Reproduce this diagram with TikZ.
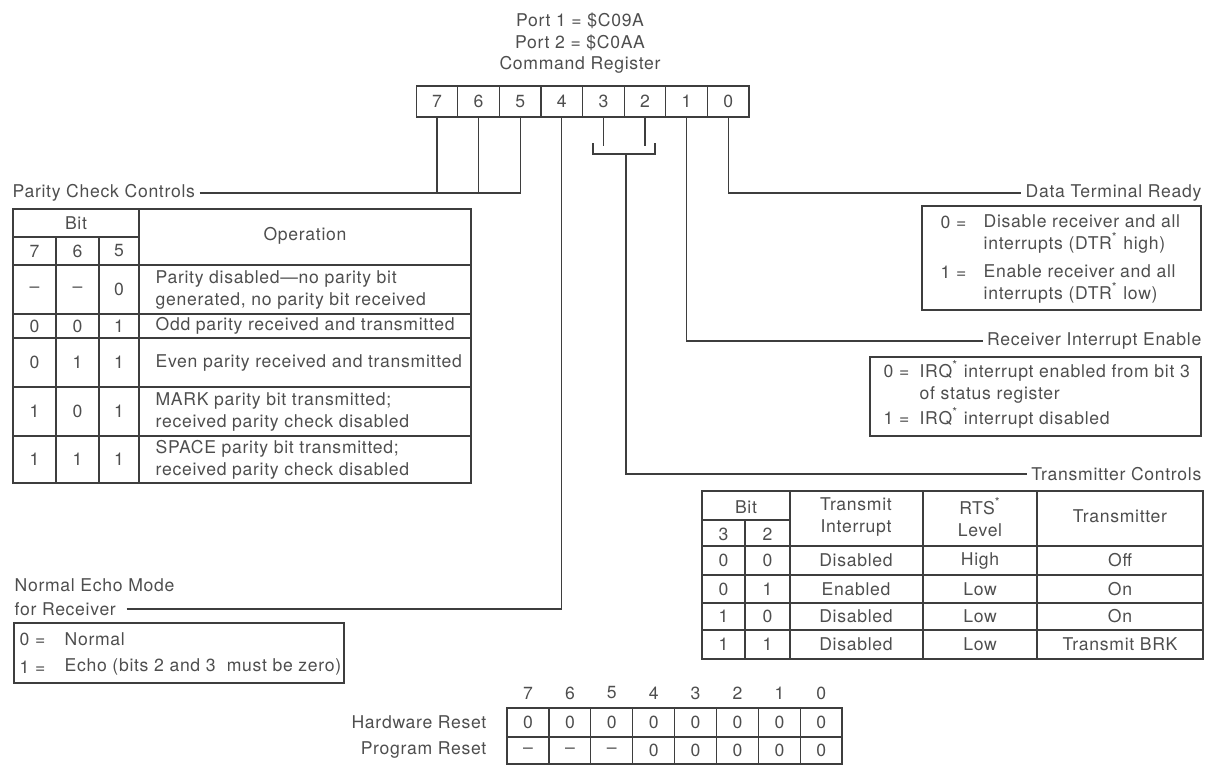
\documentclass[tikz,border=0pt]{standalone}
\usepackage{fontspec}
\setmainfont{TeX Gyre Heros}[LetterSpace=4]
\usepackage{tikz}
\usetikzlibrary{calc}
\definecolor{ink}{RGB}{78,78,78}
\definecolor{rule}{RGB}{62,62,62}

\begin{document}
\begin{tikzpicture}[
  x=0.5pt, y=-0.5pt,
  color=rule, line width=0.65pt,
  txt/.style={font=\fontsize{8.8}{11}\selectfont, inner sep=2pt, text=ink},
  lbl/.style={txt},
  cell/.style={txt, inner sep=0pt},
  multi/.style={txt, align=left},
  regcell/.style={txt, draw=rule, minimum width=20.8pt, minimum height=15.5pt, inner sep=0pt}
]
\useasboundingbox (0,0) rectangle (1229,766);

% command register
\node[lbl] (port1) at (580,21) {Port 1 = \$C09A};
\node[lbl] (port2) at (580,43) {Port 2 = \$C0AA};
\node[lbl] (cmdreg) at (580,65) {Command Register};
\foreach \b in {7,...,0}
  \node[regcell] (r\b) at ({437+(7-\b)*41.6},101.5) {\b};

% labels on the leads
\node[lbl, anchor=west] (pcc) at (8,193) {Parity Check Controls};
\node[lbl, anchor=west] (echo1) at (10,585) {Normal Echo Mode};
\node[lbl, anchor=west] (echo2) at (10,609) {for Receiver};
\node[lbl, anchor=east] (dtr) at (1206,193) {Data Terminal Ready};
\node[lbl, anchor=east] (rie) at (1206,341) {Receiver Interrupt Enable};
\node[lbl, anchor=east] (txc) at (1206,474) {Transmitter Controls};

\coordinate (tb) at (0,146);
\coordinate (brk) at (626,154);
\coordinate (brl) at (593,143);
\coordinate (brr) at (655,143);

\draw (pcc.east) -| (r5.south);
\draw (r7.south) -- (r7.south |- pcc.east);
\draw (r6.south) -- (r6.south |- pcc.east);
\draw ([xshift=3pt]echo2.east) -| (r4.south);
\draw (r3.south) -- (r3.south |- tb);
\draw (r2.south) -- (r2.south |- tb);
\draw (brl) |- (brk) -| (brr);
\draw (brk) |- (txc.west);
\draw (r1.south) |- (rie.west);
\draw (r0.south) |- (dtr.west);

% parity table
\draw (13,209) rectangle (471,483);
\draw (13,237) -- (139,237);
\draw (13,265) -- (471,265);
\foreach \y in {314,338,387,436} \draw (13,\y) -- (471,\y);
\draw (56,237) -- (56,483) (99,237) -- (99,483) (139,209) -- (139,483);
\node[cell] (pbit) at (76,223) {Bit};
\node[cell] (pop) at (305,236) {Operation};
\foreach \b/\x in {7/34.5,6/77.5,5/119} \node[cell] (ph\b) at (\x,251) {\b};
\foreach \i/\y/\va/\vb/\vc/\vt in {
  1/289.5/–/–/0/{Parity disabled—no parity bit\\generated, no parity bit received},
  2/326/0/0/1/{Odd parity received and transmitted},
  3/362.5/0/1/1/{Even parity received and transmitted},
  4/411.5/1/0/1/{MARK parity bit transmitted;\\received parity check disabled},
  5/459.5/1/1/1/{SPACE parity bit transmitted;\\received parity check disabled}} {
  \node[cell] (pa\i) at (34.5,\y) {\va};
  \node[cell] (pb\i) at (77.5,\y) {\vb};
  \node[cell] (pc\i) at (119,\y) {\vc};
  \node[multi, anchor=west] (pt\i) at (151,\y) {\vt};
}

% data terminal ready
\draw (922,206) rectangle (1201,310);
\node[txt, anchor=east] (dtr0) at (971,222) {0 =};
\node[multi, anchor=west] (dtr0t) at (979,233.5) {Disable receiver and all\\interrupts (DTR\textsuperscript{*} high)};
\node[txt, anchor=east] (dtr1) at (971,272) {1 =};
\node[multi, anchor=west] (dtr1t) at (979,283.5) {Enable receiver and all\\interrupts (DTR\textsuperscript{*} low)};

% receiver interrupt enable
\draw (870,357) rectangle (1201,436);
\node[txt, anchor=east] (rie0) at (914,371) {0 =};
\node[multi, anchor=west] (rie0t) at (915,382) {IRQ\textsuperscript{*} interrupt enabled from bit 3\\of status register};
\node[txt, anchor=east] (rie1) at (914,418) {1 =};
\node[txt, anchor=west] (rie1t) at (915,418) {IRQ\textsuperscript{*} interrupt disabled};

% transmitter table
\draw (702,491) rectangle (1203,659);
\draw (702,520) -- (790,520);
\draw (702,546) -- (1203,546);
\foreach \y in {575,603,630} \draw (702,\y) -- (1203,\y);
\draw (745,520) -- (745,659);
\foreach \x in {790,923,1037} \draw (\x,491) -- (\x,659);
\node[cell] (tbit) at (746,507) {Bit};
\node[cell] (th3) at (723.5,534) {3};
\node[cell] (th2) at (767.5,534) {2};
\node[multi, align=center] (tint) at (856,517) {Transmit\\Interrupt};
\node[multi, align=center] (trts) at (980,517) {RTS\textsuperscript{*}\\Level};
\node[cell] (ttx) at (1120,516) {Transmitter};
\foreach \i/\y/\va/\vb/\vi/\vr/\vx in {
  1/560.5/0/0/Disabled/High/Off,
  2/589/0/1/Enabled/Low/On,
  3/616.5/1/0/Disabled/Low/On,
  4/644.5/1/1/Disabled/Low/Transmit BRK} {
  \node[cell] (ta\i) at (723.5,\y) {\va};
  \node[cell] (tb\i) at (767.5,\y) {\vb};
  \node[cell] (ti\i) at (856,\y) {\vi};
  \node[cell] (tr\i) at (980,\y) {\vr};
  \node[cell] (tx\i) at (1120,\y) {\vx};
}

% echo mode
\draw (14,623) rectangle (344,683);
\node[txt, anchor=west] (echo0) at (15,639) {0 =};
\node[txt, anchor=west] (echo0t) at (60,639) {Normal};
\node[txt, anchor=west] (echo1v) at (15,667) {1 =};
\node[txt, anchor=west] (echo1t) at (60,667) {Echo (bits 2 and 3\ \ must be zero)};

% reset states
\node[txt, anchor=east] (hwl) at (491,722) {Hardware Reset};
\node[txt, anchor=east] (prl) at (491,750) {Program Reset};
\draw (507,708) rectangle (842,764);
\draw (507,737) -- (842,737);
\foreach \i in {1,...,7} \draw ({507+\i*41.9},708) -- ({507+\i*41.9},764);
\foreach \b in {7,...,0} {
  \node[cell] (bh\b) at ({528+(7-\b)*41.9},693) {\b};
  \node[cell] (hw\b) at ({528+(7-\b)*41.9},722.5) {0};
  \node[cell] (pr\b) at ({528+(7-\b)*41.9},750.5) {\ifnum\b>4 –\else 0\fi};
}
\end{tikzpicture}
\end{document}
